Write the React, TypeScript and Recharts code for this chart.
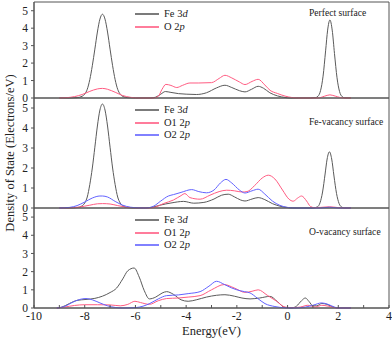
import React from 'react';
import { LineChart, Line, XAxis, YAxis, ReferenceArea, Legend } from 'recharts';

const FONT = '"Liberation Serif", "DejaVu Serif", serif';
const AXIS = '#555555';
const GRAY = '#5a5a5a';
const PINK = '#ff5c82';
const BLUE = '#6262ff';

const energyTicks = [-10, -9, -8, -7, -6, -5, -4, -3, -2, -1, 0, 1, 2, 3, 4];
const dosTicks = [0, 1, 2, 3, 4, 5];
const panelTitles = ['Perfect surface', 'Fe-vacancy surface', 'O-vacancy surface'];
const xAxisTitle = 'Energy(eV)';
const yAxisTitle = 'Density of State (Electrons/eV)';

// Perfect surface
const perfectFe3d = [
  [-9.0, 0], [-8.6, 0], [-8.3, 0.02], [-8.1, 0.1], [-8.0, 0.22], [-7.9, 0.5], [-7.8, 1.05], [-7.7, 1.85],
  [-7.6, 2.8], [-7.5, 3.78], [-7.4, 4.52], [-7.3, 4.8], [-7.2, 4.52], [-7.1, 3.78], [-7.0, 2.8], [-6.9, 1.85],
  [-6.8, 1.05], [-6.7, 0.5], [-6.6, 0.22], [-6.5, 0.09], [-6.3, 0.02], [-6.0, 0], [-5.4, 0], [-5.2, 0.05],
  [-5.0, 0.22], [-4.82, 0.37], [-4.6, 0.32], [-4.3, 0.25], [-4.0, 0.22], [-3.6, 0.2], [-3.2, 0.3], [-2.8, 0.58],
  [-2.47, 0.73], [-2.2, 0.6], [-1.9, 0.42], [-1.68, 0.35], [-1.42, 0.5], [-1.16, 0.67], [-0.95, 0.56], [-0.7, 0.3],
  [-0.4, 0.12], [-0.1, 0.03], [0.1, 0], [0.9, 0], [1.1, 0.02], [1.2, 0.1], [1.3, 0.42], [1.4, 1.25], [1.5, 2.7],
  [1.58, 3.89], [1.67, 4.47], [1.76, 3.89], [1.85, 2.55], [1.95, 1.16], [2.05, 0.37], [2.15, 0.08], [2.25, 0.01],
  [2.5, 0],
];
const perfectO2p = [
  [-9.0, 0], [-8.7, 0.02], [-8.4, 0.08], [-8.1, 0.2], [-7.8, 0.38], [-7.5, 0.52], [-7.3, 0.55], [-7.1, 0.5],
  [-6.8, 0.33], [-6.5, 0.14], [-6.2, 0.04], [-5.9, 0], [-5.3, 0], [-5.1, 0.1], [-4.95, 0.5], [-4.8, 0.78],
  [-4.6, 0.72], [-4.37, 0.6], [-4.15, 0.72], [-3.85, 0.86], [-3.5, 0.86], [-3.0, 0.88], [-2.7, 1.12], [-2.47, 1.3],
  [-2.2, 1.15], [-1.9, 0.92], [-1.68, 0.77], [-1.4, 0.95], [-1.16, 1.07], [-0.9, 0.75], [-0.69, 0.44], [-0.4, 0.26],
  [-0.1, 0.11], [0.2, 0.02], [0.4, 0], [1.2, 0], [1.45, 0.1], [1.67, 0.18], [1.9, 0.1], [2.2, 0], [2.5, 0],
];

// Fe-vacancy surface
const feVacFe3d = [
  [-9.0, 0], [-8.6, 0], [-8.3, 0.02], [-8.1, 0.11], [-8.0, 0.25], [-7.9, 0.55], [-7.8, 1.17], [-7.7, 2.0],
  [-7.6, 3.04], [-7.5, 4.1], [-7.4, 4.9], [-7.3, 5.2], [-7.2, 4.9], [-7.1, 4.1], [-7.0, 3.04], [-6.9, 2.0],
  [-6.8, 1.17], [-6.7, 0.55], [-6.6, 0.25], [-6.5, 0.1], [-6.3, 0.02], [-6.0, 0], [-5.6, 0], [-5.3, 0.05],
  [-5.0, 0.15], [-4.6, 0.25], [-4.1, 0.33], [-3.7, 0.24], [-3.3, 0.28], [-2.9, 0.45], [-2.6, 0.64], [-2.34, 0.69],
  [-2.1, 0.56], [-1.85, 0.4], [-1.68, 0.35], [-1.4, 0.45], [-1.16, 0.52], [-0.9, 0.42], [-0.6, 0.22], [-0.3, 0.09],
  [0.0, 0.02], [0.2, 0], [1.0, 0], [1.18, 0.06], [1.28, 0.26], [1.38, 0.8], [1.48, 1.7], [1.56, 2.45], [1.65, 2.81],
  [1.74, 2.45], [1.83, 1.6], [1.93, 0.73], [2.03, 0.23], [2.13, 0.05], [2.25, 0], [2.5, 0],
];
const feVacO12p = [
  [-9.0, 0], [-8.6, 0.01], [-8.2, 0.05], [-7.8, 0.14], [-7.5, 0.21], [-7.3, 0.22], [-7.0, 0.2], [-6.7, 0.12],
  [-6.4, 0.05], [-6.0, 0.01], [-5.5, 0], [-5.2, 0.05], [-4.9, 0.22], [-4.5, 0.4], [-4.2, 0.62], [-4.05, 0.72],
  [-3.85, 0.52], [-3.45, 0.44], [-3.06, 0.64], [-2.7, 0.82], [-2.4, 0.89], [-2.1, 0.86], [-1.8, 0.8], [-1.6, 0.82],
  [-1.3, 1.12], [-1.0, 1.5], [-0.76, 1.64], [-0.5, 1.45], [-0.2, 0.9], [0.05, 0.45], [0.22, 0.34], [0.4, 0.5],
  [0.55, 0.6], [0.75, 0.35], [0.9, 0.08], [1.05, 0.02], [1.3, 0.03], [1.65, 0.06], [2.0, 0.02], [2.3, 0], [2.5, 0],
];
const feVacO22p = [
  [-9.0, 0], [-8.6, 0.03], [-8.3, 0.12], [-8.0, 0.3], [-7.7, 0.5], [-7.4, 0.6], [-7.3, 0.6], [-7.1, 0.55],
  [-6.8, 0.33], [-6.5, 0.14], [-6.2, 0.04], [-5.9, 0.01], [-5.6, 0], [-5.3, 0.08], [-5.0, 0.35], [-4.7, 0.6],
  [-4.5, 0.67], [-4.2, 0.78], [-3.78, 0.92], [-3.5, 0.82], [-3.2, 0.76], [-2.9, 0.9], [-2.65, 1.25], [-2.43, 1.43],
  [-2.2, 1.25], [-1.9, 0.9], [-1.68, 0.75], [-1.4, 0.86], [-1.16, 0.94], [-0.9, 0.7], [-0.6, 0.35], [-0.3, 0.13],
  [0.0, 0.03], [0.3, 0], [1.3, 0], [1.65, 0.04], [2.0, 0], [2.5, 0],
];

// O-vacancy surface
const oVacFe3d = [
  [-9.1, 0], [-8.9, 0.05], [-8.6, 0.25], [-8.3, 0.42], [-7.95, 0.47], [-7.6, 0.53], [-7.3, 0.65], [-7.0, 0.85],
  [-6.74, 1.1], [-6.5, 1.6], [-6.3, 2.05], [-6.05, 2.2], [-5.85, 1.7], [-5.65, 0.95], [-5.45, 0.5], [-5.2, 0.6],
  [-4.95, 0.82], [-4.77, 0.9], [-4.5, 0.75], [-4.2, 0.45], [-3.92, 0.37], [-3.6, 0.45], [-3.2, 0.6], [-2.8, 0.7],
  [-2.47, 0.73], [-2.1, 0.65], [-1.8, 0.55], [-1.48, 0.5], [-1.1, 0.55], [-0.69, 0.64], [-0.4, 0.35], [-0.1, 0.02],
  [0.15, 0], [0.35, 0.1], [0.55, 0.4], [0.7, 0.55], [0.85, 0.35], [1.0, 0.12], [1.15, 0.12], [1.35, 0.25],
  [1.55, 0.2], [1.8, 0.05], [2.0, 0], [2.5, 0],
];
const oVacO12p = [
  [-9.1, 0], [-8.8, 0.05], [-8.4, 0.14], [-8.0, 0.18], [-7.5, 0.18], [-7.0, 0.17], [-6.6, 0.12], [-6.3, 0.2],
  [-6.02, 0.37], [-5.8, 0.3], [-5.45, 0.2], [-5.1, 0.4], [-4.77, 0.52], [-4.3, 0.55], [-3.92, 0.6], [-3.45, 0.68],
  [-3.0, 1.0], [-2.5, 1.29], [-2.1, 1.1], [-1.68, 0.86], [-1.4, 0.92], [-1.16, 1.0], [-0.8, 0.7], [-0.43, 0.37],
  [-0.1, 0.05], [0.2, 0.02], [0.5, 0.05], [0.8, 0.15], [1.1, 0.05], [1.35, 0.15], [1.6, 0.1], [2.0, 0], [2.5, 0],
];
const oVacO22p = [
  [-9.1, 0], [-8.8, 0.08], [-8.5, 0.3], [-8.2, 0.47], [-7.95, 0.52], [-7.7, 0.45], [-7.4, 0.28], [-7.1, 0.12],
  [-6.8, 0.03], [-6.5, 0], [-6.0, 0.02], [-5.7, 0.1], [-5.43, 0.25], [-5.1, 0.5], [-4.77, 0.68], [-4.3, 0.72],
  [-3.92, 0.79], [-3.45, 0.9], [-3.1, 1.2], [-2.8, 1.47], [-2.5, 1.3], [-2.2, 1.1], [-2.0, 1.0], [-1.7, 0.9],
  [-1.48, 0.83], [-1.2, 0.55], [-0.89, 0.24], [-0.5, 0.08], [-0.1, 0.01], [0.3, 0], [0.7, 0.05], [1.0, 0.15],
  [1.34, 0.28], [1.6, 0.2], [1.85, 0.05], [2.0, 0], [2.5, 0],
];

type Series = { name: string; color: string; points: number[][] };

const toRows = (pts: number[][]) => pts.map(([e, v]) => ({ e, v }));

const renderName = (name: string) => {
  const head = name.slice(0, -1);
  const last = name.slice(-1);
  return (
    <span>
      {head}
      <i>{last}</i>
    </span>
  );
};

const LegendContent = (props: any) => {
  const payload = props.payload || [];
  return (
    <div style={{ fontFamily: FONT, fontSize: 10.5, color: '#222' }}>
      {payload.map((p: any) => (
        <div key={p.value} style={{ display: 'flex', alignItems: 'center', height: 12.6 }}>
          <svg width={24} height={4} style={{ display: 'block' }}>
            <line x1={0} x2={24} y1={2} y2={2} stroke={p.color} strokeWidth={1.6} />
          </svg>
          <span style={{ marginLeft: 5, whiteSpace: 'nowrap', lineHeight: '12px' }}>{renderName(p.value)}</span>
        </div>
      ))}
    </div>
  );
};

const fmtEnergy = (v: number) => (v % 2 === 0 ? String(v) : '');

type PanelProps = {
  top: number;
  height: number;
  marginTop: number;
  marginBottom: number;
  showX: boolean;
  series: Series[];
};

const Panel = ({ top, height, marginTop, marginBottom, showX, series }: PanelProps) => (
  <div style={{ position: 'absolute', left: 0, top, width: 392, height }}>
    <LineChart
      width={392}
      height={height}
      margin={{ top: marginTop, right: 3, bottom: marginBottom, left: 0 }}
      style={{ fontFamily: FONT }}
    >
      <XAxis
        type="number"
        dataKey="e"
        domain={[-10, 4]}
        ticks={energyTicks}
        interval={0}
        allowDataOverflow
        height={showX ? 34 : 0}
        tick={showX ? { fill: '#222', fontSize: 12, fontFamily: FONT } : false}
        tickFormatter={fmtEnergy}
        tickSize={-3}
        tickMargin={6}
        axisLine={{ stroke: AXIS }}
        tickLine={{ stroke: AXIS }}
        label={
          showX
            ? { value: xAxisTitle, position: 'insideBottom', offset: 7, fill: '#222', fontSize: 12.5, fontFamily: FONT }
            : undefined
        }
      />
      <YAxis
        type="number"
        domain={[0, 5.5]}
        ticks={dosTicks}
        interval={0}
        width={34}
        tick={{ fill: '#222', fontSize: 11.5, fontFamily: FONT }}
        tickSize={3}
        tickMargin={3}
        axisLine={{ stroke: AXIS }}
        tickLine={{ stroke: AXIS }}
      />
      <ReferenceArea x1={-10} x2={4} y1={0} y2={5.5} fill="none" stroke={AXIS} strokeWidth={1} ifOverflow="extendDomain" />
      {series.map((s) => (
        <Line
          key={s.name}
          data={toRows(s.points)}
          dataKey="v"
          name={s.name}
          type="monotone"
          stroke={s.color}
          strokeWidth={1}
          dot={false}
          activeDot={false}
          isAnimationActive={false}
        />
      ))}
      <Legend
        layout="vertical"
        align="center"
        verticalAlign="middle"
        content={<LegendContent />}
        wrapperStyle={{ left: 135, top: marginTop + 6, width: 'auto', height: 'auto' }}
      />
    </LineChart>
  </div>
);

const titleStyle: React.CSSProperties = {
  position: 'absolute',
  left: 309,
  fontFamily: FONT,
  fontSize: 9.6,
  color: '#222',
  whiteSpace: 'nowrap',
  lineHeight: '12px',
};

const fontCss = `.recharts-wrapper, .recharts-wrapper svg, .recharts-wrapper text, .recharts-text { font-family: "Liberation Serif", "DejaVu Serif", serif !important; }`;

export default function App() {
  return (
    <div style={{ position: 'absolute', left: 0, top: 0, width: 392, height: 342, background: '#fff', fontFamily: FONT }}>
      <style>{fontCss}</style>
      <Panel
        top={0}
        height={106}
        marginTop={2}
        marginBottom={8}
        showX={false}
        series={[
          { name: 'Fe 3d', color: GRAY, points: perfectFe3d },
          { name: 'O 2p', color: PINK, points: perfectO2p },
        ]}
      />
      <Panel
        top={90}
        height={126}
        marginTop={8}
        marginBottom={8}
        showX={false}
        series={[
          { name: 'Fe 3d', color: GRAY, points: feVacFe3d },
          { name: 'O1 2p', color: PINK, points: feVacO12p },
          { name: 'O2 2p', color: BLUE, points: feVacO22p },
        ]}
      />
      <Panel
        top={200}
        height={142}
        marginTop={8}
        marginBottom={0}
        showX={true}
        series={[
          { name: 'Fe 3d', color: GRAY, points: oVacFe3d },
          { name: 'O1 2p', color: PINK, points: oVacO12p },
          { name: 'O2 2p', color: BLUE, points: oVacO22p },
        ]}
      />
      <div style={{ ...titleStyle, top: 7 }}>{panelTitles[0]}</div>
      <div style={{ ...titleStyle, top: 116 }}>{panelTitles[1]}</div>
      <div style={{ ...titleStyle, top: 226 }}>{panelTitles[2]}</div>
      <svg style={{ position: 'absolute', left: 0, top: 0 }} width={22} height={342}>
        <text
          x={10}
          y={153}
          transform="rotate(-90 10 153)"
          textAnchor="middle"
          dominantBaseline="central"
          fontFamily={FONT}
          fontSize={12.5}
          fill="#222"
        >
          {yAxisTitle}
        </text>
      </svg>
    </div>
  );
}
